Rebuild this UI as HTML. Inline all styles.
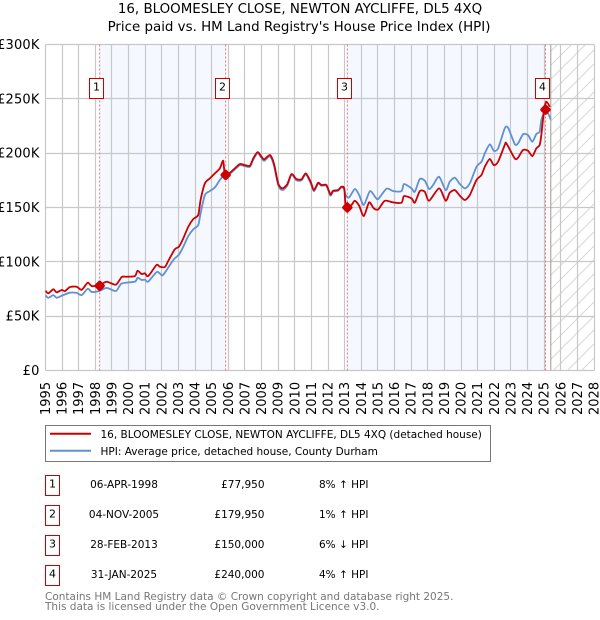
<!DOCTYPE html>
<html lang="en">
<head>
<meta charset="utf-8">
<title>16, Bloomesley Close price chart</title>
<style>
html,body{margin:0;padding:0;background:#fff;}
body{width:600px;height:620px;overflow:hidden;font-family:"DejaVu Sans","Liberation Sans",sans-serif;}
svg{display:block;}
text{font-family:"DejaVu Sans","Liberation Sans",sans-serif;fill:#000;}
</style>
</head>
<body>
<svg id="chart" xmlns="http://www.w3.org/2000/svg" width="600" height="620" viewBox="0 0 600 620">
<defs>
<pattern id="hatch" patternUnits="userSpaceOnUse" width="14" height="14">
<path d="M-2 16 L16 -2 M-2 2 L2 -2 M12 16 L16 12" stroke="#d8d8d8" stroke-width="1" fill="none"/>
</pattern>
</defs>
<text x="300" y="13" text-anchor="middle" font-size="13.4">16, BLOOMESLEY CLOSE, NEWTON AYCLIFFE, DL5 4XQ</text>
<text x="299" y="31" text-anchor="middle" font-size="13.4">Price paid vs. HM Land Registry's House Price Index (HPI)</text>
<g id="plot"></g>
<g>
<rect x="45.5" y="425.5" width="445" height="36" fill="#fff" stroke="#777" stroke-width="1"/>
<line x1="50" x2="91" y1="433.7" y2="433.7" stroke="#cc0000" stroke-width="2"/>
<text x="100.5" y="438" font-size="10.5">16, BLOOMESLEY CLOSE, NEWTON AYCLIFFE, DL5 4XQ (detached house)</text>
<line x1="50" x2="91" y1="450.7" y2="450.7" stroke="#6090d0" stroke-width="2"/>
<text x="100.5" y="455" font-size="10.5">HPI: Average price, detached house, County Durham</text>
</g>
<g id="table"></g>
<text x="45" y="600" font-size="10.5" style="fill:#777">Contains HM Land Registry data © Crown copyright and database right 2025.</text>
<text x="45" y="610" font-size="10.5" style="fill:#777">This data is licensed under the Open Government Licence v3.0.</text>
</svg>
<script>
var yearTicks = [1995,1996,1997,1998,1999,2000,2001,2002,2003,2004,2005,2006,2007,2008,2009,2010,2011,2012,2013,2014,2015,2016,2017,2018,2019,2020,2021,2022,2023,2024,2025,2026,2027,2028];
var valueTicks = [0,50,100,150,200,250,300];
var valueTickLabels = ['£0','£50K','£100K','£150K','£200K','£250K','£300K'];
var priceYears = [1995,1995.17,1995.47,1995.67,1995.97,1996.17,1996.47,1996.87,1997.18,1997.54,1997.78,1998.24,1998.68,1999.24,1999.58,1999.88,2000.38,2000.54,2000.78,2000.98,2001.18,2001.68,2001.88,2002.18,2002.38,2002.78,2003.03,2003.29,2003.59,2003.89,2004.19,2004.33,2004.59,2004.89,2005.19,2005.49,2005.69,2005.79,2006.09,2006.39,2006.7,2007,2007.3,2007.5,2007.76,2008,2008.16,2008.5,2008.74,2009,2009.24,2009.54,2009.8,2010.1,2010.4,2010.66,2010.95,2011.15,2011.4,2011.6,2011.9,2012.14,2012.3,2012.6,2012.8,2012.97,2013.05,2013.11,2013.41,2013.61,2013.87,2014.15,2014.47,2014.75,2015.02,2015.41,2015.91,2016.42,2016.57,2017.02,2017.22,2017.52,2017.82,2018.08,2018.68,2019.08,2019.32,2019.63,2019.93,2020.23,2020.53,2020.93,2021.23,2021.43,2021.73,2021.97,2022.23,2022.63,2022.73,2023.23,2023.43,2023.73,2024.03,2024.29,2024.53,2024.73,2024.83,2025,2025.14,2025.34];
var priceValues = [73.4,71,74.7,71.9,74.1,73.1,76.8,77.1,74.3,80.8,77.7,78.7,81.7,79,86,86.3,86.9,91.8,88.8,89.4,86.9,97.1,95.5,95.2,100.7,111.5,113.9,121.6,132.3,139.4,143.1,156.9,172.2,176.8,181.4,186,193,180.8,182,186,190,189,188.4,195.2,201,196.7,194.3,198.3,190.6,172.2,167.6,171.3,180.8,176.2,176,181.4,173.7,166,172.8,170.7,170.7,162.1,165.4,166,169.1,167.6,152.3,149.5,152.3,156.2,151.6,142.1,154.7,149.2,148.3,156.2,154.7,154.4,160.5,158.4,154.4,165.1,164.5,156.2,167.6,156.2,163.6,166,160.8,156.9,161.5,175.3,179.9,187.5,194.6,189,192.1,207.5,209,195.2,195.8,202.9,202.2,197.3,204.4,207.5,216.6,240.3,247.3,242.7];
var hpiYears = [1995,1995.17,1995.47,1995.67,1995.97,1996.47,1996.87,1997.18,1997.54,1997.78,1998.24,1998.68,1999.24,1999.58,2000.38,2000.54,2000.78,2000.98,2001.18,2001.68,2001.88,2002.08,2002.68,2003.03,2003.29,2003.59,2003.89,2004.19,2004.33,2004.59,2004.89,2005.19,2005.49,2005.79,2006.09,2006.39,2006.7,2007,2007.3,2007.5,2007.76,2008,2008.16,2008.5,2008.74,2009,2009.24,2009.54,2009.8,2010.1,2010.4,2010.66,2010.95,2011.15,2011.4,2011.6,2011.9,2012.14,2012.3,2012.6,2012.8,2012.97,2013.05,2013.27,2013.61,2013.87,2014.15,2014.52,2014.85,2015.02,2015.52,2015.91,2016.42,2016.57,2017.02,2017.22,2017.52,2017.82,2018.08,2018.32,2018.68,2019.08,2019.32,2019.63,2019.93,2020.23,2020.53,2020.93,2021.23,2021.43,2021.73,2021.97,2022.23,2022.63,2022.83,2023.23,2023.43,2023.73,2024.03,2024.29,2024.53,2024.73,2024.83,2025.03,2025.23,2025.4];
var hpiValues = [69.2,66.9,69.4,66.9,68.8,71.6,71.4,69.4,75.3,72.3,73.2,76,73.2,80,81.8,85.4,83.3,83.6,81.8,90.6,89.3,88,101.5,106.7,113.9,123.7,129.9,133.9,144.6,161.5,165.1,168.5,175.3,180.8,181,185,189,188,187.5,194,200,195.5,193,197,189,170.5,166,170,180,175,175,180.5,172.5,165,172,170,170,161,164.5,165.5,168.5,167,161.5,159.3,167,161.5,152.3,165.1,159.3,157.8,167.3,165.1,165.1,171.6,167.6,164.5,176.2,174.6,167,170.7,178.3,166,173.7,177.4,171.6,167.6,172.2,187.5,192.1,199.8,208.1,202.2,204.4,222.8,223.4,208.4,209,217.3,216.6,210.5,217.6,219.7,230.4,238,236.6,231];
var saleLabels = ['1','2','3','4'];
var saleYears = [1998.26,2005.84,2013.16,2025.08];
var saleValues = [77.95,179.95,150,240];
var saleDates = ['06-APR-1998','04-NOV-2005','28-FEB-2013','31-JAN-2025'];
var salePrices = ['£77,950','£179,950','£150,000','£240,000'];
var saleDiffs = ['8% ↑ HPI','1% ↑ HPI','6% ↓ HPI','4% ↑ HPI'];
var bandStarts = [1998.26,2013.16];
var bandEnds = [2005.84,2025.08];
var dataEndYear = 2025.4;

var NS = 'http://www.w3.org/2000/svg';
var plotLeft = 45.5, plotRight = 594, plotTop = 44.5, plotBottom = 370.5;
function xScale(year){ return plotLeft + (year - 1995) * (plotRight - plotLeft) / 33; }
function yScale(val){ return plotBottom - val * (plotBottom - plotTop) / 300; }
function make(parent, tag, attrs, content){
  var el = document.createElementNS(NS, tag);
  for (var k in attrs) el.setAttribute(k, attrs[k]);
  if (content !== undefined) el.textContent = content;
  parent.appendChild(el);
  return el;
}
var plot = document.getElementById('plot');
var table = document.getElementById('table');
var el, i;

for (i = 0; i < bandStarts.length; i++) {
  el = make(plot, 'rect', {x: xScale(bandStarts[i]), y: plotTop, width: xScale(bandEnds[i]) - xScale(bandStarts[i]), height: plotBottom - plotTop, fill: '#f5f8ff'});
  
  
}
el = make(plot, 'rect', {x: xScale(dataEndYear), y: plotTop, width: plotRight - xScale(dataEndYear), height: plotBottom - plotTop, fill: 'url(#hatch)'});



for (i = 0; i < yearTicks.length; i++) {
  var gx = Math.round(xScale(yearTicks[i]) - 0.5) + 0.5;
  el = make(plot, 'line', {x1: gx, x2: gx, y1: plotTop, y2: plotBottom, stroke: '#c8c8c8', 'stroke-width': 1.2});
  
  
  el = make(plot, 'text', {transform: 'translate(' + (xScale(yearTicks[i]) + 4.5) + ',415) rotate(-90)', 'font-size': 13}, String(yearTicks[i]));
  
  
}
for (i = 0; i < valueTicks.length; i++) {
  var gy = Math.round(yScale(valueTicks[i]) - 0.5) + 0.5;
  el = make(plot, 'line', {x1: plotLeft, x2: plotRight, y1: gy, y2: gy, stroke: '#c8c8c8', 'stroke-width': 1.2});
  
  
  el = make(plot, 'text', {x: 39.5, y: yScale(valueTicks[i]) + 4.5, 'text-anchor': 'end', 'font-size': 13, 'letter-spacing': 0.15}, valueTickLabels[i]);
  
  
}
el = make(plot, 'line', {x1: xScale(dataEndYear), x2: xScale(dataEndYear), y1: plotTop, y2: plotBottom, stroke: '#999999', 'stroke-width': 1});



for (i = 0; i < saleYears.length; i++) {
  el = make(plot, 'line', {x1: xScale(saleYears[i]), x2: xScale(saleYears[i]), y1: plotTop, y2: plotBottom, stroke: '#e8707a', 'stroke-width': 1, 'stroke-dasharray': '2,2'});
  
  
}

function linePath(xs, ys){
  var px = xs.map(xScale), py = ys.map(yScale);
  var n = px.length;
  var d = 'M' + px[0].toFixed(2) + ' ' + py[0].toFixed(2);
  for (var j = 0; j < n - 1; j++) {
    var a = Math.max(j - 1, 0), b = Math.min(j + 2, n - 1);
    var c1x = px[j] + (px[j + 1] - px[a]) / 8, c1y = py[j] + (py[j + 1] - py[a]) / 8;
    var c2x = px[j + 1] - (px[b] - px[j]) / 8, c2y = py[j + 1] - (py[b] - py[j]) / 8;
    d += 'C' + c1x.toFixed(2) + ' ' + c1y.toFixed(2) + ' ' + c2x.toFixed(2) + ' ' + c2y.toFixed(2) + ' ' + px[j + 1].toFixed(2) + ' ' + py[j + 1].toFixed(2);
  }
  return d;
}
el = make(plot, 'path', {d: linePath(hpiYears, hpiValues), fill: 'none', stroke: '#6090d0', 'stroke-width': 1.8, 'stroke-linejoin': 'round'});


el = make(plot, 'path', {d: linePath(priceYears, priceValues), fill: 'none', stroke: '#cc0000', 'stroke-width': 1.8, 'stroke-linejoin': 'round'});



for (i = 0; i < saleYears.length; i++) {
  var mx = xScale(saleYears[i]), my = yScale(saleValues[i]);
  el = make(plot, 'rect', {x: mx - 4.2, y: my - 4.2, width: 8.4, height: 8.4, rx: 2, fill: '#cc0000', transform: 'rotate(45 ' + mx + ' ' + my + ')'});
  
  
  el = make(plot, 'rect', {x: Math.round(mx - 10.5) + 0.5, y: 78.5, width: 14, height: 20, fill: '#fff', stroke: '#cc0000', 'stroke-width': 1});
  
  
  el = make(plot, 'text', {x: Math.round(mx - 10.5) + 7.5, y: 90.5, 'text-anchor': 'middle', 'font-size': 11}, saleLabels[i]);
  
  
}

for (i = 0; i < saleLabels.length; i++) {
  var rowTop = 475.5 + i * 30;
  el = make(table, 'rect', {x: 45.5, y: rowTop, width: 14, height: 20, fill: '#fff', stroke: '#cc0000', 'stroke-width': 1});
  
  
  el = make(table, 'text', {x: 52.5, y: rowTop + 12, 'text-anchor': 'middle', 'font-size': 11}, saleLabels[i]);
  
  
  el = make(table, 'text', {x: 124, y: rowTop + 12.5, 'text-anchor': 'middle', 'font-size': 10.5}, saleDates[i]);
  
  
  el = make(table, 'text', {x: 264.5, y: rowTop + 12.5, 'text-anchor': 'end', 'font-size': 10.5}, salePrices[i]);
  
  
  el = make(table, 'text', {x: 319, y: rowTop + 12.5, 'font-size': 10.5}, saleDiffs[i]);
  
  
}
</script>
</body>
</html>
